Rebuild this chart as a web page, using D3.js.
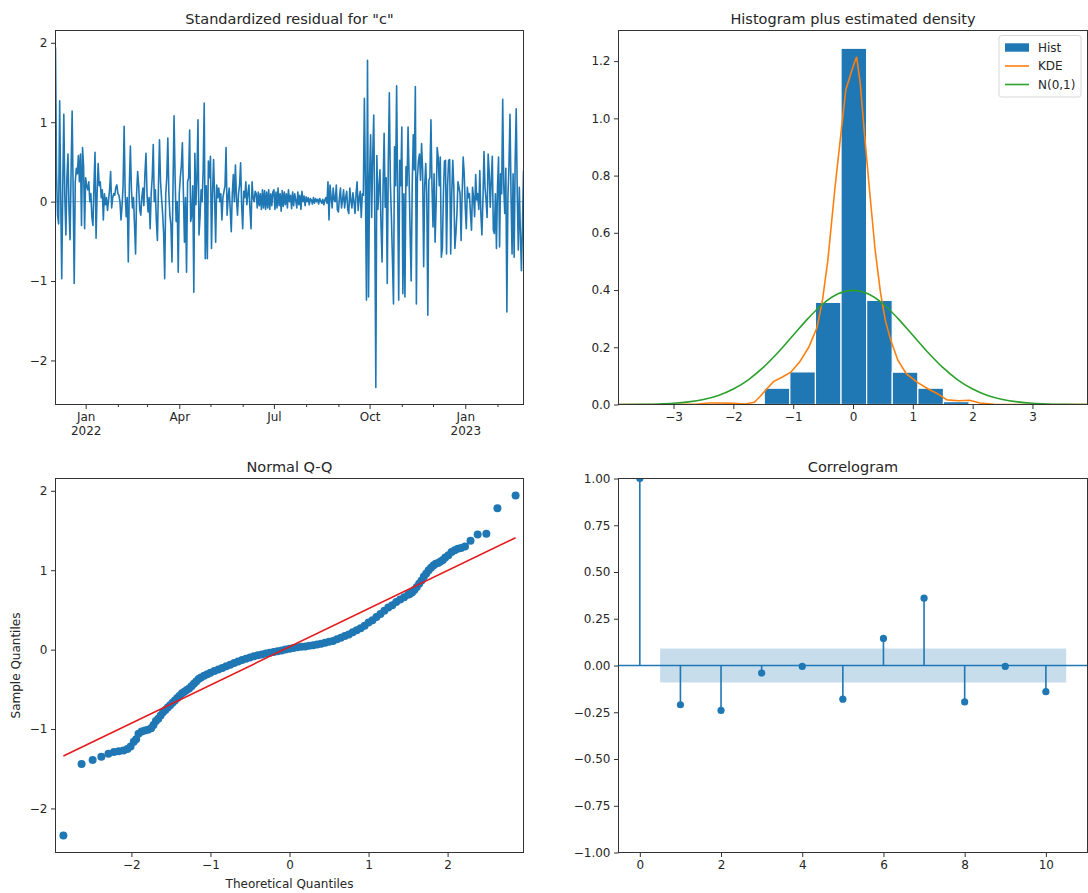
<!DOCTYPE html>
<html>
<head>
<meta charset="utf-8">
<script src="https://cdn.jsdelivr.net/npm/d3@7"></script>
<style>
  body { margin: 0; background: #fff; }
  svg text { font-family: "DejaVu Sans", sans-serif; fill: #262626; }
</style>
</head>
<body>
<svg id="chart" width="1088" height="893"></svg>
<script>
// ---- data ----
var residStart = "2021-12-03";
var resid = [
  1.94, 0.35, -0.17, -0.28, 1.27, 0.10, -0.97, 0.20, 1.10, 0.05,
  -0.42, 0.30, 0.60, -0.10, -0.48, 0.40, 1.14, 0.10, -1.03, 0.25,
  0.42, 0.35, 0.58, 0.25, 0.60, -0.30, 0.68, 0.45, -0.34, 0.30,
  0.20, 0.15, 0.25, 0.00, 0.10, -0.20, -0.30, 0.20, 0.62, -0.46,
  0.10, 0.48, 0.20, 0.25, 0.05, 0.15, -0.23, 0.10, -0.04, 0.05,
  -0.11, 0.02, 0.15, 0.38, -0.08, 0.05, 0.10, 0.08, 0.18, 0.21,
  0.10, 0.08, 0.00, -0.23, -0.05, 0.20, 0.95, 0.10, -0.19, 0.05,
  -0.76, 0.20, 0.70, 0.15, -0.08, 0.05, -0.30, -0.66, 0.10, 0.38,
  0.20, -0.10, -0.17, 0.05, 0.17, -0.05, 0.35, 0.61, 0.10, -0.13,
  0.05, -0.34, 0.10, 0.30, 0.72, 0.00, 0.15, -0.25, -0.49, 0.20,
  0.78, 0.25, 0.04, -0.15, -0.40, -0.97, 0.10, 0.30, 0.80, 0.10,
  -0.17, -0.30, -0.76, 0.20, 1.08, 0.30, -0.25, 0.00, -0.89, 0.10,
  0.30, 0.45, 0.74, 0.10, -0.51, 0.05, -0.89, 0.25, 0.30, 0.90,
  -0.25, -0.17, 0.20, -1.14, 0.61, -0.04, 0.30, 1.03, -0.42, -0.19,
  0.15, 0.00, 0.40, 1.24, -0.72, 0.20, -0.72, 0.51, 0.30, 0.57,
  -0.59, 0.10, 0.53, 0.05, -0.51, 0.21, 0.05, 0.17, 0.00, 0.10,
  -0.23, 0.05, 0.13, 0.20, 0.68, -0.17, 0.05, 0.17, -0.10, -0.38,
  0.10, 0.34, 0.00, 0.46, 0.05, -0.17, 0.10, 0.21, 0.49, -0.05,
  -0.34, 0.13, 0.05, 0.25, -0.04, 0.10, 0.21, -0.10, -0.34, 0.25,
  0.05, 0.00, 0.13, 0.10, -0.08, 0.12, -0.05, 0.10, -0.10, 0.15,
  -0.08, 0.14, -0.10, 0.12, -0.08, 0.15, -0.10, 0.10, -0.05, 0.12,
  0.15, -0.10, 0.12, -0.08, 0.17, -0.05, 0.10, -0.12, 0.14, -0.06,
  0.12, -0.04, 0.10, -0.08, 0.15, 0.00, 0.08, -0.09, 0.12, -0.05,
  0.10, 0.02, -0.08, 0.12, -0.04, 0.08, -0.10, 0.13, 0.00, 0.07,
  -0.05, 0.06, 0.00, 0.05, -0.04, 0.04, 0.02, -0.03, 0.05, -0.02,
  0.04, 0.00, 0.03, -0.03, 0.04, 0.01, -0.02, 0.03, -0.04, 0.02,
  0.05, -0.02, 0.25, -0.23, 0.21, 0.05, -0.08, 0.17, 0.02, 0.00,
  0.21, -0.10, -0.13, 0.05, 0.17, -0.08, 0.02, 0.15, -0.08, 0.05,
  0.13, -0.10, -0.15, 0.17, 0.02, -0.08, 0.11, 0.00, -0.15, 0.10,
  0.25, -0.11, 0.05, 0.13, -0.20, 0.10, 0.08, 1.30, 0.20, -1.24,
  1.78, -1.20, 0.30, 0.84, -0.20, 0.56, 1.09, -0.15, -2.34, 0.58,
  -0.10, 0.18, 0.40, -0.30, -0.76, 0.20, 0.86, -0.07, 0.30, -1.03,
  0.50, 1.37, 0.23, -0.20, -0.74, -1.29, 0.69, 0.20, 1.46, 0.10,
  -1.24, 0.52, 0.20, 0.94, -1.16, 0.10, -1.20, 0.44, 0.20, 0.94,
  0.30, -0.40, -1.00, 0.20, 0.84, 0.40, 1.45, -1.29, 0.30, 0.52,
  0.60, 0.27, 0.73, 0.40, -0.82, 0.20, 0.48, 0.10, -1.43, 0.27,
  0.30, 1.03, 0.20, -0.32, 0.35, -0.51, -0.03, 0.68, 0.56, 0.20,
  0.56, -0.70, -0.59, 0.10, 0.51, 0.52, -0.66, 0.20, 0.52, 0.53,
  -0.66, 0.10, 0.52, 0.18, -0.59, -0.40, -0.15, 0.25, 0.18, 0.10,
  -0.49, 0.10, 0.56, 0.35, -0.07, -0.34, 0.18, 0.05, 0.10, -0.15,
  -0.36, 0.18, 0.05, -0.19, 0.34, 0.02, 0.10, -0.10, 0.39, -0.15,
  -0.42, 0.02, 0.63, 0.18, 0.02, -0.20, 0.60, 0.38, -0.07, 0.27,
  0.57, -0.36, -0.40, 0.10, -0.59, 0.18, 0.56, -0.57, 0.35, 0.10,
  1.29, 0.20, -0.15, 0.42, -1.39, 0.05, 0.44, 1.10, 0.10, -0.66,
  0.35, -0.70, 0.52, 1.17, 0.10, -0.61, 0.18, -0.40, -0.87, -0.30,
  0.39
];

// histogram (density)
var histEdges = [-2.34, -1.912, -1.484, -1.056, -0.628, -0.20, 0.228, 0.656, 1.084, 1.512, 1.94];
var histDensity = [0.005, 0, 0.057, 0.114, 0.357, 1.245, 0.364, 0.113, 0.057, 0.010];

// KDE curve
var kdeX = [-3.92, -3.0, -2.6, -2.4, -2.2, -2.0, -1.8, -1.65, -1.56, -1.44, -1.33, -1.18, -1.04, -0.89, -0.74,
  -0.60, -0.51, -0.42, -0.30, -0.20, -0.12, -0.06, 0.00, 0.06, 0.12, 0.19, 0.28, 0.37, 0.46, 0.54, 0.63,
  0.75, 0.89, 1.07, 1.25, 1.42, 1.57, 1.77, 1.95, 2.12, 2.36, 2.6, 3.92];
var kdeY = [0.0, 0.0, 0.002, 0.005, 0.005, 0.004, 0.002, 0.008, 0.026, 0.055, 0.080, 0.096, 0.113, 0.149, 0.200,
  0.270, 0.365, 0.505, 0.760, 0.950, 1.100, 1.140, 1.180, 1.215, 1.125, 0.950, 0.740, 0.540, 0.390, 0.295, 0.225,
  0.155, 0.108, 0.078, 0.055, 0.037, 0.016, 0.013, 0.015, 0.005, 0.001, 0.0, 0.0];

// N(0,1) reference curve
var normX = [-3.92, -3.5, -3.25, -3.0, -2.75, -2.5, -2.25, -2.0, -1.75, -1.5, -1.25, -1.0, -0.75, -0.5, -0.25, 0,
  0.25, 0.5, 0.75, 1.0, 1.25, 1.5, 1.75, 2.0, 2.25, 2.5, 2.75, 3.0, 3.25, 3.5, 3.92];
var normY = [0.0002, 0.0009, 0.0020, 0.0044, 0.0091, 0.0175, 0.0317, 0.0540, 0.0863, 0.1295, 0.1826, 0.2420, 0.3011, 0.3521, 0.3867, 0.3989,
  0.3867, 0.3521, 0.3011, 0.2420, 0.1826, 0.1295, 0.0863, 0.0540, 0.0317, 0.0175, 0.0091, 0.0044, 0.0020, 0.0009, 0.0002];

// Q-Q points
var qqTheory = [-2.86, -2.63, -2.49, -2.38, -2.29, -2.22, -2.16, -2.10, -2.05, -2.01, -1.97, -1.94, -1.91, -1.87,
  -1.83, -1.79, -1.75, -1.72, -1.69, -1.66, -1.63, -1.60, -1.57, -1.54, -1.51, -1.48, -1.45, -1.42, -1.39,
  -1.36, -1.33, -1.30, -1.27, -1.24, -1.21, -1.18, -1.15, -1.12, -1.08, -1.04,
  -1.00, -0.95, -0.90, -0.85, -0.80, -0.75, -0.70, -0.65, -0.60, -0.55, -0.50, -0.45, -0.40, -0.35, -0.30,
  -0.25, -0.20, -0.15, -0.10, -0.05,
  0.00, 0.05, 0.10, 0.15, 0.20, 0.25, 0.30, 0.35, 0.40, 0.45, 0.50, 0.55, 0.60, 0.65, 0.70, 0.75, 0.80,
  0.85, 0.90, 0.95, 1.00, 1.05, 1.10, 1.15, 1.20, 1.25, 1.30, 1.35, 1.40, 1.45, 1.50,
  1.52, 1.55, 1.58, 1.61, 1.64, 1.67, 1.70, 1.73, 1.76, 1.79, 1.82, 1.85, 1.88, 1.91, 1.94,
  1.97, 2.01, 2.05, 2.09, 2.13, 2.17, 2.22, 2.29, 2.38, 2.49, 2.63, 2.86];
var qqSample = [-2.34, -1.44, -1.39, -1.35, -1.31, -1.29, -1.28, -1.27, -1.25, -1.22, -1.16, -1.13, -1.06, -1.03,
  -1.02, -1.01, -0.99, -0.95, -0.90, -0.87, -0.83, -0.79, -0.76, -0.73, -0.70, -0.67, -0.64, -0.61, -0.58,
  -0.55, -0.53, -0.51, -0.49, -0.46, -0.43, -0.40, -0.37, -0.35, -0.33, -0.31,
  -0.29, -0.27, -0.25, -0.23, -0.21, -0.19, -0.17, -0.15, -0.13, -0.115, -0.10, -0.085, -0.07, -0.06, -0.05,
  -0.04, -0.03, -0.02, -0.01, 0.00,
  0.01, 0.02, 0.03, 0.035, 0.04, 0.05, 0.055, 0.065, 0.075, 0.085, 0.10, 0.11, 0.13, 0.15, 0.17, 0.19, 0.22,
  0.245, 0.27, 0.30, 0.34, 0.37, 0.41, 0.45, 0.49, 0.53, 0.56, 0.60, 0.63, 0.66, 0.69,
  0.70, 0.72, 0.75, 0.79, 0.83, 0.87, 0.92, 0.96, 1.00, 1.03, 1.06, 1.08, 1.09, 1.11, 1.13,
  1.16, 1.19, 1.23, 1.25, 1.27, 1.28, 1.30, 1.37, 1.45, 1.46, 1.78, 1.94];
var qqLineX = [-2.86, 2.86];
var qqLineY = [-1.34, 1.41];

// correlogram
var acfLags = [0, 1, 2, 3, 4, 5, 6, 7, 8, 9, 10];
var acfValues = [1.0, -0.21, -0.24, -0.04, -0.005, -0.18, 0.145, 0.36, -0.195, -0.005, -0.14];
var acfConf = 0.091;

// ---- layout ----
var svg = d3.select("#chart");
var C0 = "#1f77b4", C1 = "#ff7f0e", C2 = "#2ca02c";

var panels = {
  tl: { x0: 55.5, x1: 523.5, y0: 30.5, y1: 404.5 },
  tr: { x0: 618.5, x1: 1087.5, y0: 30.5, y1: 404.5 },
  bl: { x0: 55.5, x1: 523.5, y0: 478.5, y1: 852.5 },
  br: { x0: 618.5, x1: 1087.5, y0: 478.5, y1: 852.5 }
};

function styleAxis(g) {
  g.attr("font-size", 12).attr("font-family", "DejaVu Sans, sans-serif");
  g.select(".domain").remove();
  g.selectAll(".tick line").attr("stroke", "#333").attr("stroke-width", 1);
  g.selectAll(".tick text").attr("fill", "#262626");
}

function addClip(id, p) {
  svg.append("clipPath").attr("id", id)
    .append("rect")
    .attr("x", p.x0).attr("y", p.y0)
    .attr("width", p.x1 - p.x0).attr("height", p.y1 - p.y0);
}

function frame(p) {
  svg.append("rect")
    .attr("x", p.x0).attr("y", p.y0)
    .attr("width", p.x1 - p.x0).attr("height", p.y1 - p.y0)
    .attr("fill", "none").attr("stroke", "#333").attr("stroke-width", 1);
}

function title(p, txt) {
  svg.append("text")
    .attr("x", (p.x0 + p.x1) / 2).attr("y", p.y0 - 6.5)
    .attr("text-anchor", "middle").attr("font-size", 14.5)
    .text(txt);
}

// ---- 1. standardized residual ----
(function () {
  var p = panels.tl;
  var t0 = d3.isoParse(residStart + "T00:00:00Z");
  var series = resid.map((v, i) => ({ date: d3.utcDay.offset(t0, i), value: v }));

  var x = d3.scaleUtc().domain(d3.extent(series, d => d.date)).range([p.x0, p.x1]);
  var y = d3.scaleLinear().domain([-2.555, 2.155]).range([p.y1, p.y0]);

  addClip("clip-tl", p);
  var g = svg.append("g").attr("clip-path", "url(#clip-tl)");

  g.append("path")
    .datum(series)
    .attr("fill", "none").attr("stroke", C0).attr("stroke-width", 1.6)
    .attr("stroke-linejoin", "round")
    .attr("d", d3.line().x(d => x(d.date)).y(d => y(d.value)));

  // zero reference line
  g.append("line")
    .attr("x1", p.x0).attr("x2", p.x1)
    .attr("y1", y(0)).attr("y2", y(0))
    .attr("stroke", C0).attr("stroke-opacity", 0.5).attr("stroke-width", 1);

  var months = d3.utcMonth.range(series[0].date, series[series.length - 1].date);
  var major = months.filter(m => m.getUTCMonth() % 3 === 0);
  var minor = months.filter(m => m.getUTCMonth() % 3 !== 0);

  svg.append("g").attr("transform", `translate(0,${p.y1})`)
    .call(d3.axisBottom(x).tickValues(minor).tickSize(2.5).tickFormat(""))
    .call(styleAxis);

  var gx = svg.append("g").attr("transform", `translate(0,${p.y1})`)
    .call(d3.axisBottom(x).tickValues(major).tickSize(4.5).tickPadding(3.5).tickFormat(d3.utcFormat("%b")))
    .call(styleAxis);
  gx.selectAll(".tick text").each(function (d) {
    if (d.getUTCMonth() === 0) {
      d3.select(this).append("tspan").attr("x", 0).attr("dy", "1.2em").text(d.getUTCFullYear());
    }
  });

  svg.append("g").attr("transform", `translate(${p.x0},0)`)
    .call(d3.axisLeft(y).tickValues([-2, -1, 0, 1, 2]).tickSize(4.5).tickPadding(3.5).tickFormat(d3.format("d")))
    .call(styleAxis);

  frame(p);
  title(p, 'Standardized residual for "c"');
})();

// ---- 2. histogram plus density ----
(function () {
  var p = panels.tr;
  var x = d3.scaleLinear().domain([-3.92, 3.92]).range([p.x0, p.x1]);
  var y = d3.scaleLinear().domain([0, 1.307]).range([p.y1, p.y0]);

  addClip("clip-tr", p);
  var g = svg.append("g").attr("clip-path", "url(#clip-tr)");

  var bins = histDensity.map((d, i) => ({ x0: histEdges[i], x1: histEdges[i + 1], d: d }));
  g.selectAll("rect.bar")
    .data(bins)
    .enter().append("rect")
    .attr("class", "bar")
    .attr("x", d => x(d.x0)).attr("width", d => x(d.x1) - x(d.x0))
    .attr("y", d => y(d.d)).attr("height", d => y(0) - y(d.d))
    .attr("fill", C0).attr("stroke", "#fff").attr("stroke-width", 1.2);

  var line = d3.line().x(d => x(d[0])).y(d => y(d[1]));
  g.append("path")
    .datum(kdeX.map((v, i) => [v, kdeY[i]]))
    .attr("fill", "none").attr("stroke", C1).attr("stroke-width", 1.6)
    .attr("d", line);
  g.append("path")
    .datum(normX.map((v, i) => [v, normY[i]]))
    .attr("fill", "none").attr("stroke", C2).attr("stroke-width", 1.6)
    .attr("d", line.curve(d3.curveMonotoneX));

  svg.append("g").attr("transform", `translate(0,${p.y1})`)
    .call(d3.axisBottom(x).tickValues([-3, -2, -1, 0, 1, 2, 3]).tickSize(4.5).tickPadding(3.5).tickFormat(d3.format("d")))
    .call(styleAxis);
  svg.append("g").attr("transform", `translate(${p.x0},0)`)
    .call(d3.axisLeft(y).tickValues([0, 0.2, 0.4, 0.6, 0.8, 1.0, 1.2]).tickSize(4.5).tickPadding(3.5).tickFormat(d3.format(".1f")))
    .call(styleAxis);

  frame(p);
  title(p, "Histogram plus estimated density");

  // legend
  var lg = svg.append("g").attr("transform", "translate(999,35.5)");
  lg.append("rect")
    .attr("width", 82).attr("height", 61.5).attr("rx", 2.5)
    .attr("fill", "#fff").attr("fill-opacity", 0.8)
    .attr("stroke", "#d6d6d6").attr("stroke-width", 1);
  var items = [["Hist", "patch", C0], ["KDE", "line", C1], ["N(0,1)", "line", C2]];
  items.forEach((it, i) => {
    var cy = 12 + i * 18.5;
    if (it[1] === "patch") {
      lg.append("rect").attr("x", 6).attr("y", cy - 4.2).attr("width", 24).attr("height", 8.4).attr("fill", it[2]);
    } else {
      lg.append("line").attr("x1", 6).attr("x2", 30).attr("y1", cy).attr("y2", cy)
        .attr("stroke", it[2]).attr("stroke-width", 1.6);
    }
    lg.append("text").attr("x", 39).attr("y", cy + 4.3).attr("font-size", 12).text(it[0]);
  });
})();

// ---- 3. normal Q-Q ----
(function () {
  var p = panels.bl;
  var x = d3.scaleLinear().domain([-2.96, 2.96]).range([p.x0, p.x1]);
  var y = d3.scaleLinear().domain([-2.555, 2.155]).range([p.y1, p.y0]);

  addClip("clip-bl", p);
  var g = svg.append("g").attr("clip-path", "url(#clip-bl)");

  g.selectAll("circle")
    .data(qqTheory.map((v, i) => [v, qqSample[i]]))
    .enter().append("circle")
    .attr("cx", d => x(d[0])).attr("cy", d => y(d[1])).attr("r", 4)
    .attr("fill", C0);

  g.append("line")
    .attr("x1", x(qqLineX[0])).attr("y1", y(qqLineY[0]))
    .attr("x2", x(qqLineX[1])).attr("y2", y(qqLineY[1]))
    .attr("stroke", "#e41a1c").attr("stroke-width", 1.6);

  svg.append("g").attr("transform", `translate(0,${p.y1})`)
    .call(d3.axisBottom(x).tickValues([-2, -1, 0, 1, 2]).tickSize(4.5).tickPadding(3.5).tickFormat(d3.format("d")))
    .call(styleAxis);
  svg.append("g").attr("transform", `translate(${p.x0},0)`)
    .call(d3.axisLeft(y).tickValues([-2, -1, 0, 1, 2]).tickSize(4.5).tickPadding(3.5).tickFormat(d3.format("d")))
    .call(styleAxis);

  frame(p);
  title(p, "Normal Q-Q");

  svg.append("text")
    .attr("x", (p.x0 + p.x1) / 2).attr("y", 888)
    .attr("text-anchor", "middle").attr("font-size", 12)
    .text("Theoretical Quantiles");
  svg.append("text")
    .attr("transform", `translate(19.5,${(p.y0 + p.y1) / 2}) rotate(-90)`)
    .attr("text-anchor", "middle").attr("font-size", 12)
    .text("Sample Quantiles");
})();

// ---- 4. correlogram ----
(function () {
  var p = panels.br;
  var x = d3.scaleLinear().domain([-0.525, 11.025]).range([p.x0, p.x1]);
  var y = d3.scaleLinear().domain([-1, 1]).range([p.y1, p.y0]);

  addClip("clip-br", p);
  var g = svg.append("g").attr("clip-path", "url(#clip-br)");

  // confidence band from lag 0.5 to the last lag + 0.5
  var bandX = [acfLags[1] - 0.5, acfLags[acfLags.length - 1] + 0.5];
  g.append("path")
    .datum(bandX)
    .attr("fill", C0).attr("fill-opacity", 0.25)
    .attr("d", d3.area().x(d => x(d)).y0(y(-acfConf)).y1(y(acfConf)));

  g.append("line")
    .attr("x1", p.x0).attr("x2", p.x1).attr("y1", y(0)).attr("y2", y(0))
    .attr("stroke", C0).attr("stroke-width", 1.6);

  var pts = acfLags.map((l, i) => [l, acfValues[i]]);
  g.selectAll("line.stem")
    .data(pts)
    .enter().append("line")
    .attr("class", "stem")
    .attr("x1", d => x(d[0])).attr("x2", d => x(d[0]))
    .attr("y1", y(0)).attr("y2", d => y(d[1]))
    .attr("stroke", C0).attr("stroke-width", 1.6);
  g.selectAll("circle")
    .data(pts)
    .enter().append("circle")
    .attr("cx", d => x(d[0])).attr("cy", d => y(d[1])).attr("r", 3.6)
    .attr("fill", C0);

  svg.append("g").attr("transform", `translate(0,${p.y1})`)
    .call(d3.axisBottom(x).tickValues([0, 2, 4, 6, 8, 10]).tickSize(4.5).tickPadding(3.5).tickFormat(d3.format("d")))
    .call(styleAxis);
  svg.append("g").attr("transform", `translate(${p.x0},0)`)
    .call(d3.axisLeft(y).tickValues(d3.range(-4, 5).map(k => k * 0.25)).tickSize(4.5).tickPadding(3.5).tickFormat(d3.format(".2f")))
    .call(styleAxis);

  frame(p);
  title(p, "Correlogram");
})();
</script>
</body>
</html>
